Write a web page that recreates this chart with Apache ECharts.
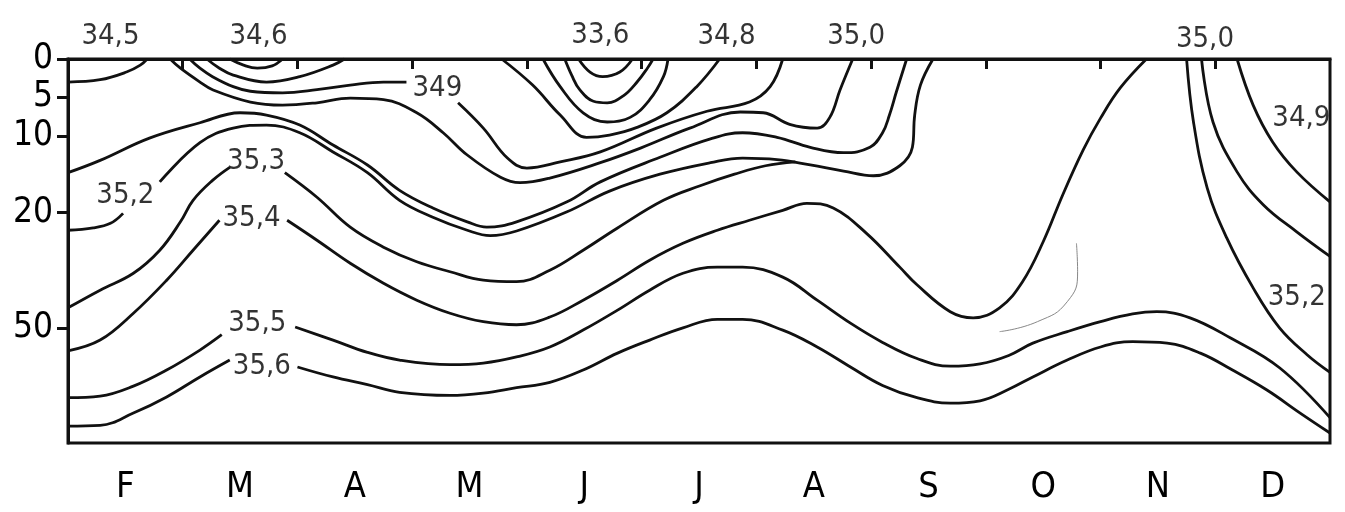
<!DOCTYPE html>
<html><head><meta charset="utf-8">
<script src="https://cdn.jsdelivr.net/npm/echarts@6/dist/echarts.min.js"></script>
<style>html,body{margin:0;padding:0;background:#fff}#c{width:1345px;height:512px}</style>
</head><body><div id="c"></div>
<script>
// x: months after 1 February (0..11), y: depth on the figure's scale (0-20 m linear, 20-50 m at half scale)
const months = ['F','M','A','M','J','J','A','S','O','N','D'];
const monthLabelPos = [0.5,1.5,2.5,3.5,4.5,5.5,6.5,7.5,8.5,9.5,10.5];
const monthTickPos = [1,2,3,4,5,6,7,8,9,10];
const depthTickPos = [0,5,10,20,35];
const depthTickLabels = ['0','5','10','20','50'];

const iso345 = [[0,3.0],[0.28,2.7],[0.51,1.7],[0.63,0.8],[0.69,0]];
const iso346 = [[1.41,0],[1.53,0.8],[1.65,1.2],[1.78,0.9],[1.87,0]];
const isoFeb2 = [[1.21,0],[1.32,1.2],[1.44,2.1],[1.73,3.0],[2.02,2.3],[2.31,0.8],[2.41,0]];
const iso349a = [[1.06,0],[1.15,1.2],[1.26,2.3],[1.44,3.6],[1.59,4.2],[1.87,4.4],[2.17,4.0],[2.46,3.4],[2.75,3.0],[2.95,3.0]];
const iso349b = [[3.40,5.7],[3.62,9.0],[3.83,12.9],[4.00,14.2],[4.29,13.4],[4.64,12.1],[5.13,9.0],[5.57,6.8],[5.94,5.6],[6.12,3.6],[6.23,0]];
const iso350 = [[0.89,0],[0.98,1.2],[1.15,3.0],[1.26,4.0],[1.59,5.6],[1.87,6.0],[2.17,5.7],[2.46,5.1],[2.75,5.3],[3.04,7.0],[3.27,9.6],[3.48,12.5],[3.77,15.4],[3.94,16.1],[4.20,15.5],[4.64,13.5],[4.99,11.6],[5.42,9.0],[5.86,6.9],[6.06,7.0],[6.29,8.5],[6.53,9.0],[6.64,7.6],[6.73,4.0],[6.84,0]];
const iso351 = [[0,14.8],[0.28,13.2],[0.71,10.3],[1.15,8.3],[1.50,7.0],[1.73,7.3],[2.02,8.6],[2.31,11.2],[2.61,13.8],[2.89,17.1],[3.18,19.4],[3.48,21.2],[3.65,21.9],[3.91,21.2],[4.35,18.6],[4.64,16.0],[5.16,12.8],[5.60,10.4],[5.88,9.6],[6.18,10.2],[6.47,11.5],[6.76,12.2],[6.99,11.5],[7.10,9.6],[7.16,7.3],[7.22,4.3],[7.31,0]];
const iso352a = [[0,22.3],[0.22,22.0],[0.37,21.4],[0.48,20.1]];
const iso352b = [[0.80,16.0],[1.15,10.9],[1.44,9.0],[1.73,8.6],[2.02,9.6],[2.31,12.1],[2.61,14.8],[2.89,18.4],[3.18,20.6],[3.48,22.3],[3.68,23.0],[3.91,22.4],[4.35,19.9],[4.72,17.2],[5.16,15.0],[5.60,13.5],[5.88,12.9],[6.18,13.1],[6.47,13.8],[6.76,14.6],[7.02,15.2],[7.25,13.9],[7.36,11.5],[7.38,7.3],[7.43,3.4],[7.54,0]];
const iso353a = [[0,32.4],[0.28,30.1],[0.57,27.9],[0.80,24.9],[0.98,21.2],[1.09,18.4],[1.26,15.8],[1.41,14.1]];
const iso353b = [[1.89,14.8],[2.17,18.0],[2.46,21.9],[2.75,24.5],[3.04,26.4],[3.33,27.7],[3.62,28.8],[3.91,29.0],[4.20,27.5],[4.49,24.9],[4.79,22.0],[5.19,18.4],[5.51,16.5],[5.81,15.0],[6.08,13.9],[6.34,13.4]];
const iso354a = [[0,38.0],[0.28,36.6],[0.57,33.1],[0.86,28.8],[1.09,24.9],[1.32,21.0]];
const iso354b = [[1.91,21.0],[2.17,23.6],[2.46,26.6],[2.75,29.2],[3.04,31.4],[3.33,33.1],[3.62,34.2],[3.91,34.6],[4.20,33.6],[4.49,31.4],[4.79,28.8],[5.07,26.2],[5.36,24.0],[5.66,22.3],[5.94,21.0],[6.23,19.7],[6.44,18.8],[6.67,19.4],[6.96,22.7],[7.25,27.1],[7.40,29.4],[7.69,32.9],[7.89,33.7],[8.12,32.4],[8.32,29.0],[8.50,23.8],[8.67,17.7],[8.85,11.8],[9.00,7.7],[9.17,3.8],[9.40,0]];
const iso355a = [[0,44.1],[0.28,43.9],[0.57,42.6],[0.86,40.5],[1.15,37.9],[1.34,35.9]];
const iso355b = [[1.98,34.9],[2.31,36.6],[2.61,38.2],[2.89,39.2],[3.33,39.8],[3.62,39.6],[3.91,38.8],[4.20,37.5],[4.49,35.3],[4.79,32.7],[5.07,30.1],[5.36,27.9],[5.66,27.1],[5.88,27.1],[6.23,28.4],[6.53,31.4],[6.82,34.4],[7.10,36.9],[7.40,39.0],[7.69,40.0],[7.95,39.7],[8.20,38.6],[8.41,37.0],[8.71,35.5],[9.00,34.2],[9.28,33.2],[9.49,32.9],[9.78,33.7],[10.13,36.3],[10.56,40.2],[11,46.7]];
const iso356a = [[0,47.8],[0.28,47.7],[0.57,46.1],[0.86,44.0],[1.15,41.4],[1.41,39.2]];
const iso356b = [[2.00,40.1],[2.31,41.4],[2.61,42.4],[2.89,43.4],[3.33,43.8],[3.62,43.5],[3.91,42.8],[4.20,42.1],[4.49,40.5],[4.79,38.3],[5.07,36.6],[5.36,35.0],[5.66,33.9],[5.88,33.9],[6.23,35.3],[6.53,37.5],[6.82,40.1],[7.10,42.5],[7.40,44.1],[7.69,44.8],[7.95,44.5],[8.20,43.0],[8.41,41.4],[8.71,39.2],[9.00,37.5],[9.28,36.8],[9.58,37.0],[9.87,38.3],[10.15,40.5],[10.45,43.1],[10.74,46.1],[11,48.7]];
const isoJun1 = [[4.45,0],[4.55,1.7],[4.66,2.3],[4.81,1.7],[4.92,0]];
const isoJun2 = [[4.33,0],[4.39,2.1],[4.46,4.0],[4.58,5.5],[4.70,5.7],[4.84,4.8],[4.96,3.0],[5.05,1.2],[5.10,0]];
const isoJun3 = [[4.14,0],[4.29,3.6],[4.49,7.0],[4.70,8.2],[4.90,7.6],[5.07,5.3],[5.19,2.3],[5.23,0]];
const iso348 = [[3.78,0],[4.05,3.4],[4.29,7.3],[4.52,10.2],[4.72,9.9],[4.96,8.9],[5.22,7.0],[5.48,3.6],[5.68,0]];
const isoDec352 = [[9.75,0],[9.81,8.2],[9.93,16.8],[10.10,23.3],[10.33,29.8],[10.56,35.0],[10.80,38.5],[11,40.8]];
const isoDec350 = [[9.88,0],[9.98,8.2],[10.19,14.7],[10.42,19.0],[10.71,22.5],[11,25.7]];
const isoDec349 = [[10.19,0],[10.33,6.0],[10.50,10.8],[10.71,14.7],[11,18.6]];
const faintLine = [[8.79,24.0],[8.80,27.7],[8.71,31.6],[8.45,34.2],[8.12,35.5]];

const labelTexts = ['34,5','34,6','33,6','34,8','35,0','35,0','34,9','35,2','349','35,2','35,3','35,4','35,5','35,6'];
const labelMonths = [0.37,1.66,4.64,5.74,6.87,9.91,10.75,10.71,3.22,0.50,1.64,1.60,1.65,1.69];
const labelDepths = [-2.9,-2.9,-3.0,-2.9,-2.9,-2.5,7.7,31.0,3.8,17.8,13.3,20.7,34.5,40.0];

const lines = [iso345,iso346,isoFeb2,iso349a,iso349b,iso350,iso351,iso352a,iso352b,iso353a,iso353b,
  iso354a,iso354b,iso355a,iso355b,iso356a,iso356b,isoJun1,isoJun2,isoJun3,iso348,isoDec352,isoDec350,isoDec349];

const FONT = 'DejaVu Sans Condensed';
const series = lines.map(d => ({
  type:'line', data:d, smooth:0.4, showSymbol:false, silent:true, clip:false,
  lineStyle:{color:'#111', width:2.8}
}));
series.push({type:'line', data:faintLine, smooth:0.5, showSymbol:false, silent:true,
  lineStyle:{color:'#888', width:1}});
series.push({
  type:'scatter', silent:true, clip:false, symbolSize:0, itemStyle:{color:'#111'},
  data: labelTexts.map((t,i)=>[labelMonths[i], labelDepths[i], t]),
  label:{show:true, position:[0,0], align:'center', verticalAlign:'middle',
    formatter:p=>p.data[2], color:'#000', fontFamily:FONT, fontSize:29}
});

const chart = echarts.init(document.getElementById('c'), null, {renderer:'canvas'});
chart.setOption({
  animation:false,
  backgroundColor:'#fff',
  grid:{left:68, top:59, right:15, bottom:69, show:true, borderColor:'#111', borderWidth:3},
  xAxis:{type:'value', min:0, max:11,
    axisLine:{show:true, lineStyle:{color:'#111', width:3}},
    splitLine:{show:false},
    axisTick:{show:true, customValues:monthTickPos, length:10, lineStyle:{color:'#111', width:3}},
    axisLabel:{customValues:monthLabelPos, formatter:v=>months[Math.floor(v)], color:'#000',
      fontFamily:FONT, fontSize:36, margin:27}
  },
  yAxis:{type:'value', min:0, max:50, inverse:true,
    axisLine:{show:true, lineStyle:{color:'#111', width:3}},
    splitLine:{show:false},
    axisTick:{show:true, customValues:depthTickPos, length:11, lineStyle:{color:'#111', width:3}},
    axisLabel:{customValues:depthTickPos, formatter:v=>depthTickLabels[depthTickPos.indexOf(v)], color:'#000',
      fontFamily:FONT, fontSize:35, margin:15}
  },
  series:series
});
</script></body></html>
